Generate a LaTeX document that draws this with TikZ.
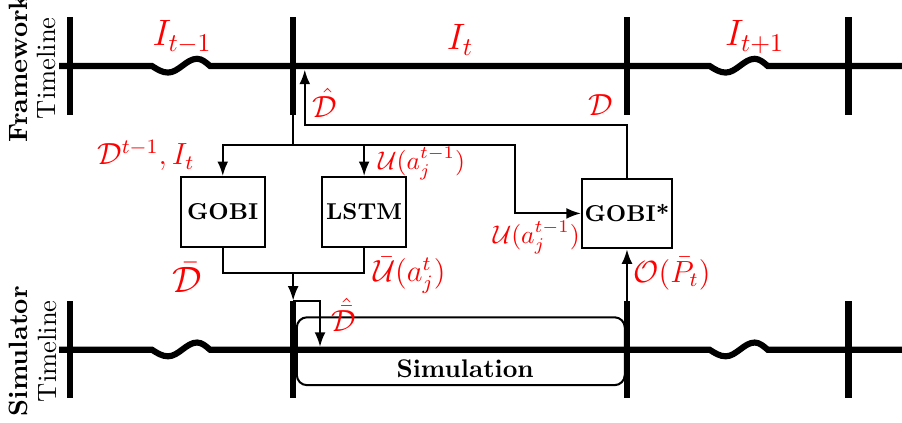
\documentclass[tikz,border=0pt]{standalone}
\usepackage{amsmath}
\usetikzlibrary{arrows.meta,positioning}

\begin{document}
\begin{tikzpicture}[
    node distance=7mm and 8mm,
    box/.style={draw, thick, align=center, minimum width=11.6mm,
                minimum height=9.6mm, inner sep=1pt, font=\small\bfseries,
                fill=white},
    simbox/.style={draw, thick, rounded corners=4pt, minimum width=45.2mm,
                minimum height=9.35mm},
    tickmark/.style={fill=black, inner sep=0pt, minimum width=2.6pt,
                minimum height=13.4mm},
    tline/.style={line width=2.4pt},
    axislbl/.style={rotate=90, align=center, inner sep=0pt,
                font=\fontsize{10.4}{11.2}\selectfont},
    lbl/.style={text=red, font=\large, inner sep=1pt},
    smalllbl/.style={text=red, inner sep=1pt},
    biglbl/.style={text=red, font=\Large, inner sep=1pt},
    arrow/.style={-{Latex[length=2mm]}, thick}
]
\useasboundingbox (0,0) rectangle (12.43,-5.82);

% timelines
\node[tickmark] (f0) at (0.965,-0.91) {};
\node[tickmark] (f1) at (4.04,-0.91) {};
\node[tickmark] (f2) at (8.64,-0.91) {};
\node[tickmark] (f3) at (11.69,-0.91) {};
\node[tickmark] (s0) at (0.965,-4.82) {};
\node[tickmark] (s1) at (4.04,-4.82) {};
\node[tickmark] (s2) at (8.64,-4.82) {};
\node[tickmark] (s3) at (11.69,-4.82) {};

\draw[tline] ([xshift=-1.5mm]f0.center) -- (2.095,-0.91)
    sin ++(0.22,-0.09) cos ++(0.2,0.095) sin ++(0.2,0.095) cos ++(0.18,-0.1)
    -- (9.78,-0.91)
    sin ++(0.22,-0.09) cos ++(0.2,0.095) sin ++(0.2,0.095) cos ++(0.18,-0.1)
    -- (12.43,-0.91);
\draw[tline] ([xshift=-1.5mm]s0.center) -- (2.095,-4.82)
    sin ++(0.22,-0.09) cos ++(0.2,0.095) sin ++(0.2,0.095) cos ++(0.18,-0.1)
    -- (9.78,-4.82)
    sin ++(0.22,-0.09) cos ++(0.2,0.095) sin ++(0.2,0.095) cos ++(0.18,-0.1)
    -- (12.43,-4.82);

\node[axislbl] (ftl) at (0.45,-0.94) {\textbf{Framework}\\Timeline};
\node[axislbl] (stl) at (0.45,-4.84) {\textbf{Simulator}\\Timeline};

\node[biglbl] (lprev) at (2.51,-0.51) {$I_{t-1}$};
\node[biglbl] (lcur) at (6.34,-0.55) {$I_t$};
\node[biglbl] (lnext) at (10.40,-0.51) {$I_{t+1}$};

% models
\node[box] (gobi) at (3.07,-2.92) {GOBI};
\node[box, right=7.6mm of gobi] (lstm) {LSTM};
\node[box, below=8.6mm of f2] (gobistar) {GOBI*};

\node[simbox] (sim) at (6.35,-4.84) {};
\node[font=\bfseries] (simtxt) at (6.41,-5.085) {Simulation};

% connectors
\coordinate (split) at (4.04,-2.0);
\coordinate (turn) at (7.10,-2.0);
\coordinate (fin) at (4.20,-0.96);
\coordinate (merge) at (4.04,-3.76);
\coordinate (simin) at (4.41,-4.78);

\draw[thick] (f1.south) -- (split);
\draw[arrow] (split) -| (gobi.north);
\draw[arrow] (split) -| (lstm.north);
\draw[arrow] (split) -- (turn) |- (gobistar.west);
\draw[arrow] (gobistar.north) -- ++(0,0.72) -| (fin);
\draw[thick] (gobi.south) |- (merge) -| (lstm.south);
\draw[arrow] (merge) -- (s1.north);
\draw[arrow] (s1.north) -| (simin);
\draw[arrow] (s2.north) -- (gobistar.south);

% labels
\node[lbl] (ldhat) at (4.48,-1.42) {$\hat{\mathcal{D}}$};
\node[lbl] (ld) at (8.28,-1.45) {$\mathcal{D}$};
\node[lbl] (lin) at (2.01,-2.14) {$\mathcal{D}^{t-1}, I_t$};
\node[smalllbl] (lu1) at (5.81,-2.25) {$\mathcal{U}(a_j^{t-1})$};
\node[smalllbl] (lu2) at (7.39,-3.27) {$\mathcal{U}(a_j^{t-1})$};
\node[biglbl] (ldbar) at (2.58,-3.83) {$\bar{\mathcal{D}}$};
\node[lbl] (lubar) at (5.64,-3.79) {$\bar{\mathcal{U}}(a_j^t)$};
\node[lbl] (ldhatbar) at (4.74,-4.34) {$\hat{\bar{\mathcal{D}}}$};
\node[lbl] (lobs) at (9.26,-3.77) {$\mathcal{O}(\bar{P}_t)$};

\end{tikzpicture}
\end{document}
